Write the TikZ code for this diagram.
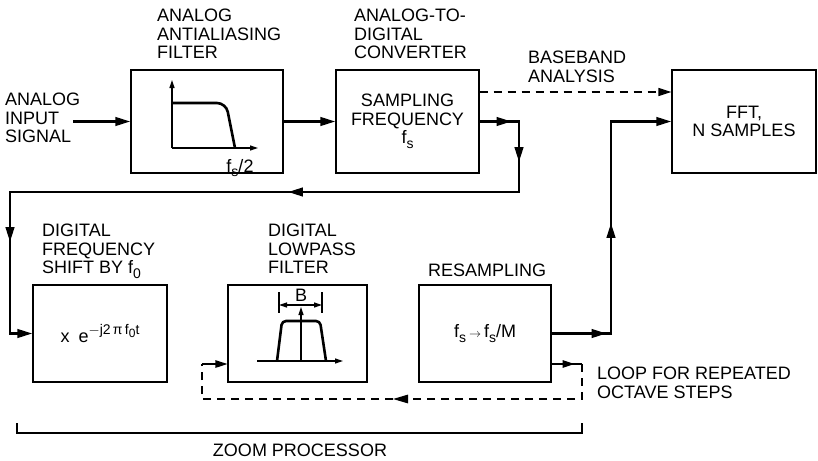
\documentclass[tikz,border=0pt]{standalone}
\usepackage{fontspec}
\setmainfont{Liberation Sans}
\usetikzlibrary{arrows.meta,positioning,decorations.markings}
\newcommand\lsub[1]{\raisebox{-0.5ex}{\fontsize{14}{14}\selectfont#1}}
\tikzset{
  >={Triangle[length=15pt,width=8.5pt]},
  box/.style={draw,line width=1.2pt,inner sep=0pt,align=center},
  tag/.style={anchor=north west,inner sep=0pt,align=left},
  flow/.style={line width=2.6pt},
  dashflow/.style={line width=1.3pt,dash pattern=on 8pt off 6pt,
    -{Triangle[length=13pt,width=8pt]}},
  loopline/.style={line width=1.3pt},
  axisline/.style={line width=1.2pt},
  resp/.style={line width=2.6pt},
  tipat/.style={postaction={decorate,decoration={markings,
    mark=at position #1 with {\arrow{Triangle[length=15pt,width=8.5pt]}}}}},
  smalltipat/.style={postaction={decorate,decoration={markings,
    mark=at position #1 with {\arrow{Triangle[length=12pt,width=7.5pt]}}}}},
  smalltip/.style={-{Triangle[length=12pt,width=7.5pt]}},
  axtip/.style={-{Triangle[length=8pt,width=5pt]}},
  axtips/.style={{Triangle[length=8pt,width=5pt]}-{Triangle[length=8pt,width=5pt]}},
}

\begin{document}
\begin{tikzpicture}[x=1pt,y=-1pt,font=\fontsize{18}{18.5}\selectfont]
  \useasboundingbox (0,0) rectangle (818,460);
  % blocks
  \node[box,minimum width=152pt,minimum height=103pt] (aaf) at (207,121.5) {};
  \node[box,minimum width=143pt,minimum height=103pt] (adc) at (407.5,121.5) {SAMPLING\\FREQUENCY\\f\lsub{s}};
  \node[box,minimum width=144pt,minimum height=103pt] (fft) at (744,121.5) {FFT,\\N SAMPLES};
  \node[box,minimum width=134pt,minimum height=97pt] (shift) at (100,333.5)
    {x\enskip e\raisebox{0.9ex}{\fontsize{14}{14}\selectfont$-$j2\,π\,f\raisebox{-0.4ex}{\fontsize{12}{12}\selectfont 0}t}};
  \node[box,minimum width=139pt,minimum height=97pt] (lpf) at (297.5,333.5) {};
  \node[box,minimum width=132pt,minimum height=97pt] (resamp) at (485,333.5)
    {f\lsub{s}\,{\fontsize{13}{13}\selectfont$\rightarrow$}\,f\lsub{s}/M};
  % labels
  \node[tag] (inlbl) at (5,93) {ANALOG\\INPUT\\SIGNAL};
  \node[tag] (aaflbl) at (157,9) {ANALOG\\ANTIALIASING\\FILTER};
  \node[tag] (adclbl) at (354,9) {ANALOG-TO-\\DIGITAL\\CONVERTER};
  \node[tag] (bblbl) at (528,51) {BASEBAND\\ANALYSIS};
  \node[tag] (shiftlbl) at (42,224) {DIGITAL\\FREQUENCY\\SHIFT BY f\lsub{0}};
  \node[tag] (lpflbl) at (268,224) {DIGITAL\\LOWPASS\\FILTER};
  \node[tag] (resamplbl) at (428,264) {RESAMPLING};
  \node[tag] (looplbl) at (597,367) {LOOP FOR REPEATED\\OCTAVE STEPS};
  \node (zoomlbl) at (300,450) {ZOOM PROCESSOR};
  % antialiasing response
  \draw[axisline,axtip] (172,148) -- (172,80);
  \draw[axisline,axtip] (172,148) -- (258,148);
  \draw[resp,rounded corners=9pt] (172,103) -- (226,103) -- (235,148);
  \node[anchor=base] (fslbl) at (240,172) {f\lsub{s}/2};
  % lowpass response
  \draw[axisline,axtip] (257,361) -- (343,361);
  \draw[axisline,axtip] (301,361) -- (301,307);
  \draw[resp,rounded corners=4pt] (277,361) -- (282,321) -- (320,321) -- (326,361);
  \draw[axisline] (279,292) -- (279,313) (322,292) -- (322,313);
  \draw[axisline,axtips] (279,305) -- (322,305);
  \node[inner sep=0pt] (blbl) at (301,295) {B};
  % signal paths
  \coordinate (in) at (73,121.5);
  \coordinate (c1) at (519,121.5);
  \coordinate (c2) at (519,192);
  \coordinate (c3) at (10,192);
  \coordinate (c5) at (611,333.5);
  \coordinate (c6) at (611,121.5);
  \draw[flow,->] (in) -- (aaf);
  \draw[flow,->] (aaf) -- (adc);
  \draw[dashflow] ([yshift=29.5pt]adc.east) -- ([yshift=29.5pt]fft.west);
  \draw[flow,->,tipat=32pt,tipat=80pt,tipat=341pt,tipat=669pt] (adc.east) -- (c1) -- (c2) -- (c3) -- (shift.west -| c3) -- (shift.west);
  \draw[flow,->,tipat=55pt,tipat=170pt] (resamp.east) -- (c5) -- (c6) -- (fft.west);
  % octave loop
  \coordinate (l1) at (582,364);
  \coordinate (l2) at (582,399);
  \coordinate (l3) at (202,399);
  \coordinate (l4) at (202,364);
  \draw[loopline,smalltipat=23pt] (resamp.east |- l1) -- (l1);
  \draw[loopline,dash pattern=on 8pt off 6pt,tipat=224pt] (l1) -- (l2) -- (l3) -- (l4);
  \draw[loopline,smalltip] (l4) -- (lpf.west |- l4);
  % zoom processor bracket
  \draw[loopline] (17,423) -- (17,433) -- (582,433) -- (582,423);
\end{tikzpicture}
\end{document}
